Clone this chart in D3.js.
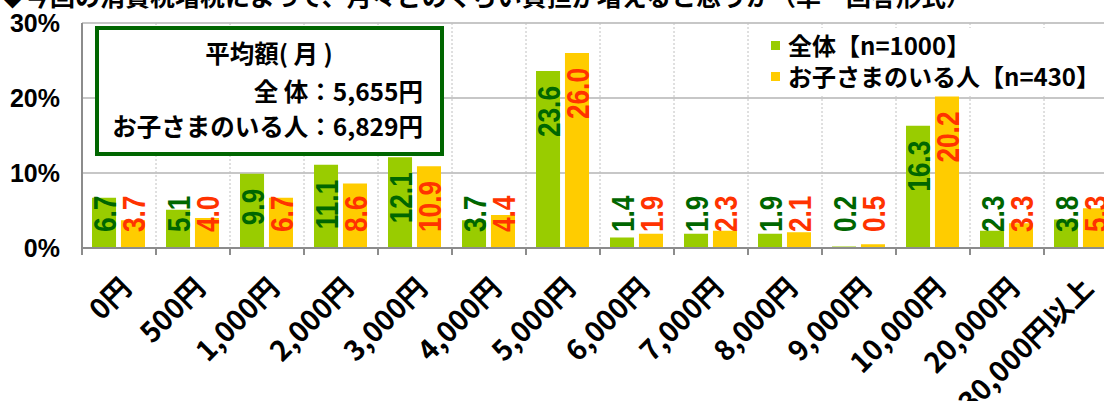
<!DOCTYPE html>
<html>
<head>
<meta charset="utf-8" />
<title>消費税増税の負担</title>
<style>
  body { margin: 0; background: #fff; }
  svg { display: block; }
</style>
</head>
<body>
<script src="https://cdnjs.cloudflare.com/ajax/libs/d3/7.8.5/d3.min.js"></script>
<script>

var categories = ["0円","500円","1,000円","2,000円","3,000円","4,000円","5,000円","6,000円","7,000円","8,000円","9,000円","10,000円","20,000円","30,000円以上"];
var seriesNames = ["全体【n=1000】","お子さまのいる人【n=430】"];
var allValues = [6.7, 5.1, 9.9, 11.1, 12.1, 3.7, 23.6, 1.4, 1.9, 1.9, 0.2, 16.3, 2.3, 3.8];
var kidsValues = [3.7, 4.0, 6.7, 8.6, 10.9, 4.4, 26.0, 1.9, 2.3, 2.1, 0.5, 20.2, 3.3, 5.3];
var yTicks = [0, 10, 20, 30];
var titleText = "◆今回の消費税増税によって、月々どのくらい負担が増えると思うか（単一回答形式）";
var boxLines = ["平均額( 月 )", "全 体：5,655円", "お子さまのいる人：6,829円"];

var barColors = ["#99cc00", "#ffcc00"];
var labelColors = ["#006600", "#ff3300"];

var width = 1104;
var height = 401;
var margin = {"left":82, "top":23};
var plotBottom = 248;
var band = 74;

var jp = "'Noto Sans CJK JP', 'Noto Sans', sans-serif";
var num = "'Liberation Sans', Arial, sans-serif";
var narrow = "'Liberation Sans Narrow', 'Liberation Sans', Arial, sans-serif";

var svg = d3.select("body").append("svg")
            .attr("width", width)
            .attr("height", height);

var x = d3.scaleBand()
          .domain(categories)
          .range([margin.left, margin.left + band*categories.length])
          .padding(0);

var xInner = d3.scaleBand()
               .domain([0,1])
               .range([10, 63])
               .paddingInner(0.17);

var y = d3.scaleLinear()
          .domain([0,30])
          .range([plotBottom, margin.top]);

// title, cut off at top of picture
svg.append("text")
   .attr("x", 0)
   .attr("y", 6)
   .style("font-family", jp)
   .style("font-weight", "bold")
   .style("font-size", "25px")
   .text(titleText);

// horizontal grid
svg.append("g")
   .selectAll("line")
   .data(yTicks.filter(d => d > 0))
   .enter()
   .append("line")
   .attr("x1", margin.left)
   .attr("x2", width)
   .attr("y1", d => y(d))
   .attr("y2", d => y(d))
   .style("stroke", "#b4b4b4")
   .style("stroke-width", 1.5);

// vertical dashed grid
svg.append("g")
   .selectAll("line")
   .data(categories.slice(1))
   .enter()
   .append("line")
   .attr("x1", d => x(d))
   .attr("x2", d => x(d))
   .attr("y1", y(30))
   .attr("y2", plotBottom)
   .style("stroke", "#c0c0c0")
   .style("stroke-width", 1)
   .style("stroke-dasharray", "2,2");

// y axis
var yAxis = d3.axisLeft(y)
              .tickValues(yTicks)
              .tickSize(0)
              .tickPadding(22)
              .tickFormat(d => d + "%");

var yAxisView = svg.append("g")
   .attr("transform", "translate(" + margin.left + ",0)")
   .call(yAxis);
yAxisView.select(".domain").remove();
yAxisView.selectAll("text")
   .style("font-family", num)
   .style("font-weight", "bold")
   .style("font-size", "25px")
   .attr("fill", "#000");

// bars
var groups = svg.append("g")
   .selectAll("g")
   .data(categories)
   .enter()
   .append("g")
   .attr("transform", d => "translate(" + x(d) + ",0)");

var seriesValues = [allValues, kidsValues];

groups.each(function(cat, i){
    var g = d3.select(this);
    [0,1].forEach(function(s){
        var v = seriesValues[s][i];
        g.append("rect")
         .attr("x", xInner(s))
         .attr("width", xInner.bandwidth())
         .attr("y", y(v))
         .attr("height", plotBottom - y(v))
         .attr("fill", barColors[s]);
    });
});

// value labels
groups.each(function(cat, i){
    var g = d3.select(this);
    [0,1].forEach(function(s){
        var v = seriesValues[s][i];
        var cx = xInner(s) + xInner.bandwidth()/2;
        var t = g.append("text")
                 .text(v.toFixed(1))
                 .style("font-family", narrow)
                 .style("font-weight", "bold")
                 .style("font-size", "32px")
                 .attr("fill", labelColors[s])
                 .attr("text-anchor", "start")
                 .attr("dy", "0.36em");
        var len = t.node().getComputedTextLength();
        var sx = 1;
        if(len / v.toFixed(1).length > 12) sx = 0.82;   // no narrow face: squeeze
        len = len * sx;
        var bottom = Math.min(y(v) + 15 + len, plotBottom - 16);
        t.attr("transform", "translate(" + cx + "," + bottom + ") rotate(-90) scale(" + sx + ",1)");
    });
});

// x axis baseline and ticks
svg.append("line")
   .attr("x1", margin.left)
   .attr("x2", width)
   .attr("y1", plotBottom)
   .attr("y2", plotBottom)
   .style("stroke", "#8c8c8c")
   .style("stroke-width", 2);

svg.append("line")
   .attr("x1", margin.left)
   .attr("x2", margin.left)
   .attr("y1", y(30))
   .attr("y2", plotBottom + 7)
   .style("stroke", "#8c8c8c")
   .style("stroke-width", 2);

svg.append("g")
   .selectAll("line")
   .data(categories.slice(1))
   .enter()
   .append("line")
   .attr("x1", d => x(d))
   .attr("x2", d => x(d))
   .attr("y1", plotBottom)
   .attr("y2", plotBottom + 7)
   .style("stroke", "#8c8c8c")
   .style("stroke-width", 2);

// category labels
svg.append("g")
   .selectAll("text")
   .data(categories)
   .enter()
   .append("text")
   .text(d => d)
   .attr("text-anchor", "end")
   .attr("transform", d => "translate(" + (x(d) + x.bandwidth()/2 + 14) + "," + 290 + ") rotate(-45)")
   .style("font-family", jp)
   .style("font-weight", "bold")
   .style("font-size", "28px")
   .attr("fill", "#000");

// average box
var box = svg.append("g");
box.append("rect")
   .attr("x", 97)
   .attr("y", 28)
   .attr("width", 345)
   .attr("height", 126)
   .attr("fill", "#fff")
   .style("stroke", "#006600")
   .style("stroke-width", 4);

box.append("text")
   .attr("x", 269)
   .attr("y", 63)
   .attr("text-anchor", "middle")
   .style("font-family", jp)
   .style("font-weight", "bold")
   .style("font-size", "24.5px")
   .text(boxLines[0]);

box.selectAll("text.r")
   .data(boxLines.slice(1))
   .enter()
   .append("text")
   .attr("class", "r")
   .attr("x", 423)
   .attr("y", (d,i) => 101 + i*35)
   .attr("text-anchor", "end")
   .style("font-family", jp)
   .style("font-weight", "bold")
   .style("font-size", "24.5px")
   .text(d => d);

// legend
var legend = svg.append("g")
   .attr("transform", "translate(760,28)");

legend.append("rect")
   .attr("width", 344)
   .attr("height", 68)
   .attr("fill", "#fff");

var items = legend.selectAll("g")
   .data(seriesNames)
   .enter()
   .append("g")
   .attr("transform", (d,i) => "translate(0," + (i*31) + ")");

items.append("rect")
   .attr("x", 11)
   .attr("y", 13)
   .attr("width", 9)
   .attr("height", 9)
   .attr("fill", (d,i) => barColors[i]);

items.append("text")
   .attr("x", 28)
   .attr("y", 27)
   .style("font-family", jp)
   .style("font-weight", "bold")
   .style("font-size", "24px")
   .text(d => d);

</script>
</body>
</html>
